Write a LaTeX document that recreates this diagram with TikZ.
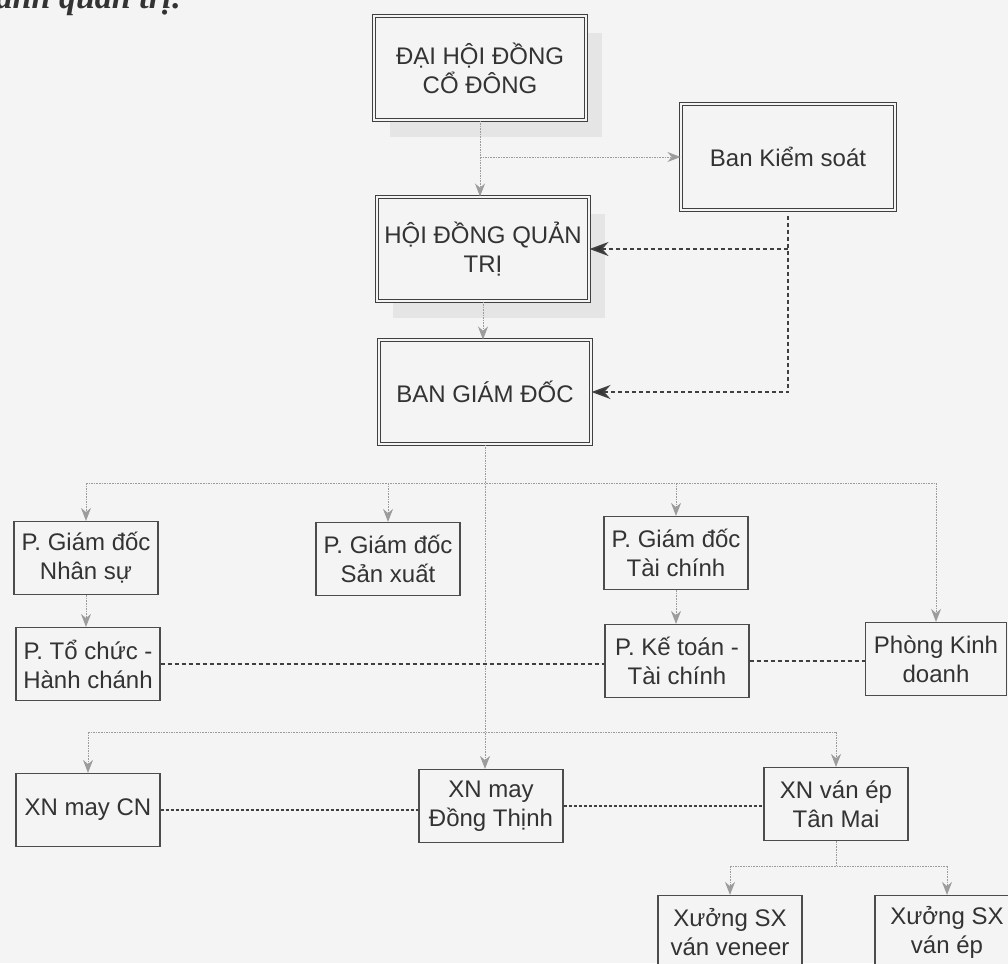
\documentclass[tikz,border=0pt]{standalone}
\usepackage{fontspec}
\setmainfont{Liberation Sans}
\newfontfamily\titlefont{Liberation Serif}
\usetikzlibrary{arrows.meta,shadows}
\definecolor{paper}{HTML}{F4F4F4}
\definecolor{ink}{HTML}{333333}
\definecolor{linkgray}{HTML}{9C9C9C}
\begin{document}
\begin{tikzpicture}[x=1pt,y=-1pt,
  every node/.style={font=\fontsize{24}{29}\selectfont, text=ink, align=center, inner sep=0pt},
  sbox/.style={draw=black!70, line width=1.2pt, fill=paper, minimum width=144pt, minimum height=73pt},
  dbox/.style={draw=black!75, line width=1pt, double=paper, double distance=2pt, fill=paper, minimum width=212pt, minimum height=104pt},
  shadowed/.style={drop shadow={shadow xshift=16pt, shadow yshift=-17pt, fill=black!10, opacity=1}},
  branch/.style={draw=linkgray, line width=0.8pt, dash pattern=on 1.6pt off 1pt},
  conn/.style={branch, -{Stealth[length=13pt,width=10pt,fill=linkgray]}},
  dashlink/.style={draw=black!75, line width=1.6pt, dash pattern=on 4pt off 3pt},
  darrow/.style={dashlink, -{Stealth[length=19pt,width=14pt,fill=black!80]}}
]
\useasboundingbox (0,0) rectangle (1008,963);
\fill[paper] (0,0) rectangle (1008,963);

% partial heading
\node[anchor=base east, font=\titlefont\bfseries\itshape\fontsize{34}{34}\selectfont, text=black!80] (title) at (183,9) {hành quản trị:};

% top boxes
\node[dbox, shadowed] (dhcd) at (480,68) {ĐẠI HỘI ĐỒNG\\CỔ ĐÔNG};
\node[dbox, shadowed] (hdqt) at (483,249) {HỘI ĐỒNG QUẢN\\TRỊ};
\node[dbox] (bgd) at (485,392) {BAN GIÁM ĐỐC};
\node[dbox, minimum width=214pt, minimum height=106pt] (bks) at (788,157) {Ban Kiểm soát};

% departments
\node[sbox] (gdns) at (86,558) {P. Giám đốc\\Nhân sự};
\node[sbox] (gdsx) at (388,559) {P. Giám đốc\\Sản xuất};
\node[sbox] (tchc) at (88,664) {P. Tổ chức -\\Hành chánh};
\node[sbox] (gdtc) at (676,553) {P. Giám đốc\\Tài chính};
\node[sbox] (ketoan) at (677,661) {P. Kế toán -\\Tài chính};
\node[sbox, minimum width=141pt] (pkd) at (936,659) {Phòng Kinh\\doanh};

% enterprises
\node[sbox] (xncn) at (88,810) {XN may CN};
\node[sbox] (xndt) at (491,806) {XN may\\Đồng Thịnh};
\node[sbox] (xntm) at (836,804) {XN ván ép\\Tân Mai};
\node[sbox] (xsvv) at (730,932) {Xưởng SX\\ván veneer};
\node[sbox] (xsve) at (947,932) {Xưởng SX\\ván ép};

% top connectors
\draw[conn] (dhcd.south) -- (dhcd.south |- hdqt.north);
\draw[conn] (dhcd.south |- bks.west) -- (bks.west);
\draw[conn] (hdqt.south) -- (hdqt.south |- bgd.north);
\draw[darrow] ([yshift=-5pt]bks.south) |- (bgd.east);
\draw[darrow] (bks.south |- hdqt.east) -- (hdqt.east);

% first branch
\coordinate (b1) at (485,483);
\draw[branch] (gdns.north |- b1) -- (pkd.north |- b1);
\foreach \n in {gdns,gdsx,gdtc,pkd} \draw[conn] (\n.north |- b1) -- (\n.north);
\draw[conn] (gdns.south) -- (gdns.south |- tchc.north);
\draw[conn] (gdtc.south) -- (gdtc.south |- ketoan.north);
\draw[conn] (bgd.south) -- (bgd.south |- xndt.north);

% dashed links between departments
\draw[dashlink] (tchc.east) -- (tchc.east -| ketoan.west);
\draw[dashlink] (ketoan.east) -- (ketoan.east -| pkd.west);

% second branch
\coordinate (b2) at (485,732);
\draw[branch] (xncn.north |- b2) -- (xntm.north |- b2);
\draw[conn] (xncn.north |- b2) -- (xncn.north);
\draw[conn] (xntm.north |- b2) -- (xntm.north);
\draw[dashlink, dash pattern=on 3pt off 2pt] (xncn.east) -- (xncn.east -| xndt.west);
\draw[dashlink, dash pattern=on 3pt off 2pt] (xndt.east) -- (xndt.east -| xntm.west);

% workshops
\coordinate (b3) at (838,866);
\draw[branch] (xntm.south) -- (xntm.south |- b3);
\draw[branch] (xsvv.north |- b3) -- (xsve.north |- b3);
\draw[conn] (xsvv.north |- b3) -- (xsvv.north);
\draw[conn] (xsve.north |- b3) -- (xsve.north);
\end{tikzpicture}
\end{document}
